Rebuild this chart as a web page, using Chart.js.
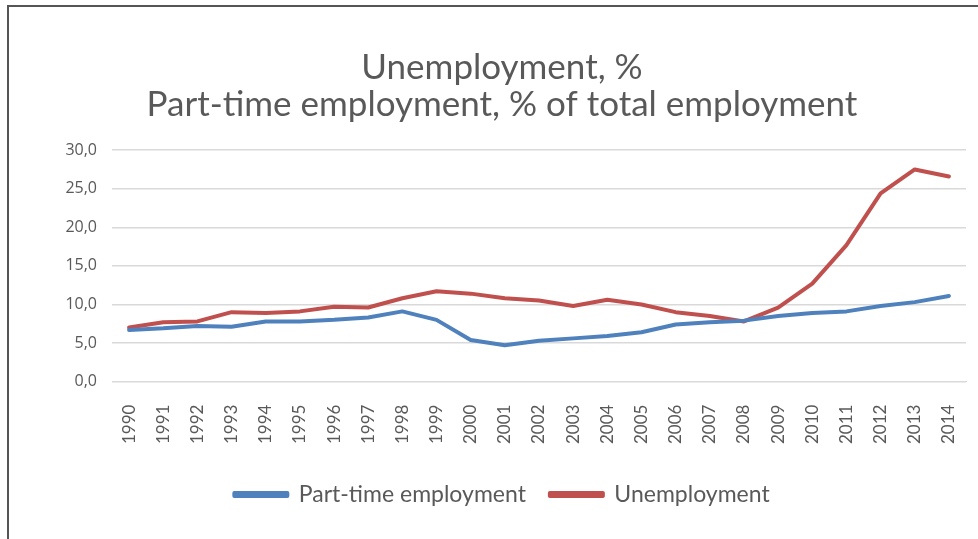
<!DOCTYPE html>
<html>
<head>
<meta charset="utf-8">
<script src="https://cdn.jsdelivr.net/npm/chart.js@4.4.1/dist/chart.umd.min.js"></script>
<style>
  html, body { margin: 0; padding: 0; background: #fff; overflow: hidden; }
  #wrap { position: absolute; left: 0; top: 0; width: 1004px; height: 539px; }
  #frame { position: absolute; left: 7px; top: 5px; width: 990px; height: 560px;
           border-left: 2px solid #555; border-top: 2px solid #555; pointer-events: none; }
</style>
</head>
<body>
<div id="wrap"><canvas id="chart" width="1004" height="539"></canvas></div>
<div id="frame"></div>
<script>
// years on the x axis
const years = ['1990','1991','1992','1993','1994','1995','1996','1997','1998','1999','2000','2001','2002',
  '2003','2004','2005','2006','2007','2008','2009','2010','2011','2012','2013','2014'];

// part-time employment, % of total employment
const partTime = [6.7, 6.9, 7.2, 7.1, 7.8, 7.8, 8.0, 8.3, 9.1, 8.0, 5.4, 4.7, 5.3,
  5.6, 5.9, 6.4, 7.4, 7.7, 7.9, 8.5, 8.9, 9.1, 9.8, 10.3, 11.1];

// unemployment, %
const unemployment = [7.0, 7.7, 7.8, 9.0, 8.9, 9.1, 9.7, 9.6, 10.8, 11.7, 11.4, 10.8, 10.5,
  9.8, 10.6, 10.0, 9.0, 8.5, 7.8, 9.6, 12.7, 17.7, 24.4, 27.5, 26.6];

const titleLines = ['Unemployment, %', 'Part-time employment, % of total employment'];
const seriesNames = ['Part-time employment', 'Unemployment'];
const yTicks = [0, 5, 10, 15, 20, 25, 30];

const grey = '#595959';
const fam = 'Lato, "Open Sans", sans-serif';

new Chart(document.getElementById('chart').getContext('2d'), {
  type: 'line',
  data: {
    labels: years,
    datasets: [
      { label: seriesNames[0], data: partTime, borderColor: '#4f81bd', backgroundColor: '#4f81bd',
        borderWidth: 4, pointRadius: 0, tension: 0, borderJoinStyle: 'round', borderCapStyle: 'round' },
      { label: seriesNames[1], data: unemployment, borderColor: '#c0504d', backgroundColor: '#c0504d',
        borderWidth: 4, pointRadius: 0, tension: 0, borderJoinStyle: 'round', borderCapStyle: 'round' }
    ]
  },
  options: {
    responsive: false,
    animation: false,
    layout: { padding: { left: 38, right: 38, top: 49, bottom: 23 } },
    plugins: {
      title: {
        display: true,
        text: titleLines,
        color: grey,
        font: { family: fam, size: 35, weight: 'normal', lineHeight: 1.06 },
        padding: { top: 0, bottom: 27 }
      },
      legend: {
        position: 'bottom',
        labels: {
          color: grey,
          font: { family: fam, size: 23 },
          boxWidth: 53,
          boxHeight: 3,
          padding: 24
        }
      },
      tooltip: { enabled: false }
    },
    scales: {
      x: {
        offset: true,
        grid: { display: false },
        border: { display: true, color: '#d9d9d9', width: 1 },
        ticks: { color: grey, font: { family: fam, size: 17 }, minRotation: 90, maxRotation: 90, autoSkip: false, padding: 15 }
      },
      y: {
        min: 0,
        max: 30,
        afterBuildTicks: s => { s.ticks = yTicks.map(v => ({ value: v })); },
        afterFit: s => { s.width = 74; },
        grid: { color: '#d9d9d9', lineWidth: 1.5, drawTicks: false },
        border: { display: false },
        ticks: {
          color: grey,
          font: { family: '"Open Sans", sans-serif', size: 16 },
          padding: 15,
          callback: v => v.toFixed(1).replace('.', ',')
        }
      }
    }
  }
});
</script>
</body>
</html>
